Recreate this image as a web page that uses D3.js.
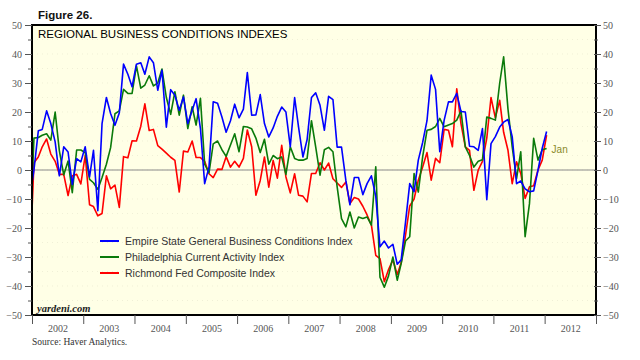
<!DOCTYPE html>
<html><head><meta charset="utf-8">
<script src="https://cdn.jsdelivr.net/npm/d3@7"></script>
<style>
html,body{margin:0;padding:0;background:#fff;}
svg{display:block;}
</style></head>
<body>
<svg id="chart" width="640" height="360"></svg>
<script>
// Monthly data, Dec 2001 .. Jan 2012 (first point sits just left of the plot and is clipped)
const startMonth = [2001, 11];
const empire = [-10, 0, 13.5, 14, 20.4, 16, 9.7, -2, 8, 6.2, -5, 3.9, 2.8,
  8, -2.4, 6.8, -14, 16, 25, 19.5, 15.4, 19.7, 36.5, 33, 28.7,
  36.5, 37, 33, 39, 37, 27.5, 34.4, 14.8, 27.7, 25.8, 20.6, 25.2,
  16, 20.6, 24.6, 14.3, -4.7, 1, 23.5, 23, 18.3, 13, 17, 22.7,
  18, 21, 33.6, 18.9, 19, 26, 16, 11.4, 14.5, 18.5, 21.7, 20,
  8, 25, 14.8, 4.5, 10.5, 25, 26.6, 22.3, 13.7, 25.4, 24.3, 7.9,
  7.9, -3.6, -12, -2.6, -2.6, -8.5, -4.7, -2, -9, -26.5, -24.5, -26.9,
  -25.6, -32.5, -31, -18, -4.7, -7.5, 3.4, 9.5, 17, 32.7, 27.8, 6.3,
  17.1, 23.5, 23.5, 26.4, 20.2, 20, 8.2, 8, 6.8, 14.3, -10.2, 9.1,
  11.5, 14.8, 16.5, 17.4, 11.5, -4.7, -3.8, -6.5, -7.5, -7.2, 0, 7.5,
  13.3];
const philly = [-25, 11, 11.2, 12, 12.5, 10.3, 20, 6.6, -1.7, 3.1, -7.8, 6.9, 6.9,
  6, -3.2, -4.4, -6.7, -2.6, 2, 7.7, 19.4, 20.4, 27.8, 26.4, 26.4,
  35.9, 28.2, 29.3, 32.5, 29, 30, 34.8, 25, 19.2, 27, 18.9, 25.8,
  14.3, 21.8, 15.5, 24.7, 2, -1, 9, 10, 7, 4.7, 8.6, 12.5,
  6.3, 15, 14.8, 14.2, 11, 6, 10.6, 2, 5, 3.9, 4.5, -1.5,
  8, 4, 3.4, 3.4, 4, 17, 8, -1.8, 7, 7.8, 6.3, -5.8,
  -16.8, -19.6, -14.5, -20, -16.2, -16.7, -16.2, -19, 1.1, -37, -40.4, -36.5,
  -30, -38, -32.3, -24.5, -23, -1.2, -7.6, 4.5, 13.7, 14, 15, 17.8,
  14.9, 15.5, 16, 17.2, 20.4, 8, 5, 1, 3, 3.5, 18.3, 17.8,
  17.2, 30, 39, 21, 8, -3, 6.3, -23, -11.6, 10.9, 3.4, 7,
  7.4];
const richmond = [-34, 2.5, 4.5, 8, 10.7, 5.5, 3, -1.5, -1.5, -8.8, -2, -1.5, -4.8,
  5, -12, -12.6, -15.8, -15, -2, -6.5, -5.2, -12.9, 4.6, 4.2, 10.1,
  10, 15.1, 22.8, 13.6, 14, 8.4, 7.2, 5.8, 4.4, 3.3, -7.6, 6.5,
  6.2, 10, 4.3, 4.3, 3, -1.3, -2.6, 0.3, 0.2, 4.6, 1, 3,
  1, 4, 13.8, 8, -8.7, -3.6, 4.5, -5.9, 3.3, -2.8, 8.5, -2.4,
  -7.9, -1.3, -8.7, -9, -11, -1.2, -1.2, 2.5, 0, 2.4, -3, -4.5,
  -6, -4.1, -11.6, -9.5, -10, -12.5, -15.5, -19, -29.4, -30.6, -38.5, -34.3,
  -31, -36, -32, -22.5, -12.4, -10, -3.5, 1, 6, -3.5, 4, 2.5,
  14, 13.7, 8, 28, 16, 8, 6.8, -7, 0, 3, 11, 25,
  18, 24, 13, 6.8, -4.7, 2.8, -1.2, -9.8, -5.8, -5.4, 0, 3.4,
  12];
const yTicks = [-50, -40, -30, -20, -10, 0, 10, 20, 30, 40, 50];
const yMinor = [-45, -35, -25, -15, -5, 5, 15, 25, 35, 45];
const yearLabels = ["2002","2003","2004","2005","2006","2007","2008","2009","2010","2011","2012"];
const seriesNames = ["Empire State General Business Conditions Index",
  "Philadelphia Current Activity Index", "Richmond Fed Composite Index"];
const seriesColors = ["#0000ff", "#0a7a0a", "#ff0000"];

const svg = d3.select("#chart");
const L = 32, R = 596, T = 25, B = 315;
const x = d3.scaleTime().domain([new Date(2002,0,1), new Date(2013,0,1)]).range([L, R]);
const y = d3.scaleLinear().domain([-50, 50]).range([B, T]);
const dateOf = i => d3.timeDay.offset(new Date(startMonth[0], startMonth[1] + i, 1), 14);

svg.append("defs").append("clipPath").attr("id","clip")
  .append("rect").attr("x", L).attr("y", T).attr("width", R-L).attr("height", B-T);

// plot background
svg.append("rect").attr("x", L).attr("y", T).attr("width", R-L).attr("height", B-T)
  .attr("fill", "#ffffe6");

// faint dotted grid
const g0 = svg.append("g").attr("clip-path","url(#clip)");
g0.selectAll("line.hg").data(d3.range(-50, 51, 5)).join("line")
  .attr("x1", L).attr("x2", R).attr("y1", d => y(d)).attr("y2", d => y(d))
  .attr("stroke", "#e6e6cc").attr("stroke-width", 0.6).attr("stroke-dasharray","1,4");

// zero line
svg.append("line").attr("x1", L).attr("x2", R).attr("y1", y(0)).attr("y2", y(0))
  .attr("stroke", "#8a8a8a").attr("stroke-width", 1);

// lines
const line = d3.line().x((d,i) => x(dateOf(i))).y(d => y(d));
const gl = svg.append("g").attr("clip-path","url(#clip)");
[[richmond, 2], [philly, 1], [empire, 0]].forEach(([data, k]) => {
  gl.append("path").datum(data).attr("d", line).attr("fill","none")
    .attr("stroke", seriesColors[k]).attr("stroke-width", 1.6).attr("stroke-linejoin","round");
});

// frame
svg.append("rect").attr("x", L).attr("y", T).attr("width", R-L).attr("height", B-T)
  .attr("fill", "none").attr("stroke", "#000").attr("stroke-width", 2);

// axes
const tickFont = "'Liberation Serif','Times New Roman',serif";
function styleAxis(g){
  g.select(".domain").remove();
  g.selectAll(".tick line").attr("stroke","#555");
  g.selectAll("text").attr("font-family", tickFont).attr("font-size", 10).attr("fill","#555");
}
svg.append("g").attr("transform",`translate(${L},0)`)
  .call(d3.axisLeft(y).tickValues(yTicks).tickSize(7).tickPadding(3)).call(styleAxis);
svg.append("g").attr("transform",`translate(${L},0)`)
  .call(d3.axisLeft(y).tickValues(yMinor).tickSize(4).tickFormat("")).call(styleAxis);
svg.append("g").attr("transform",`translate(${R-2},0)`)
  .call(d3.axisRight(y).tickValues(yTicks).tickSize(7).tickPadding(2)).call(styleAxis);
svg.append("g").attr("transform",`translate(${R-2},0)`)
  .call(d3.axisRight(y).tickValues(yMinor).tickSize(4).tickFormat("")).call(styleAxis);

const yearStarts = yearLabels.map(s => new Date(+s, 0, 1)).concat([new Date(2013,0,1)]);
svg.append("g").attr("transform",`translate(0,${B})`)
  .call(d3.axisBottom(x).tickValues(yearStarts).tickSize(9).tickFormat("")).call(styleAxis);
svg.append("g").attr("transform",`translate(0,${B})`)
  .call(d3.axisBottom(x).tickValues(yearLabels.map(s => new Date(+s, 6, 2))).tickSize(0).tickPadding(10)
    .tickFormat((d,i) => yearLabels[i])).call(styleAxis);

// texts
svg.append("text").attr("x", 38).attr("y", 19).text("Figure 26.")
  .attr("font-family","'Liberation Sans',Arial,sans-serif").attr("font-weight","bold").attr("font-size", 11.5).attr("fill","#111");
svg.append("text").attr("x", 38).attr("y", 38).text("REGIONAL BUSINESS CONDITIONS INDEXES")
  .attr("font-family","'Liberation Sans',Arial,sans-serif").attr("font-size", 11.5).attr("fill","#000");
svg.append("text").attr("x", 37).attr("y", 312).text("yardeni.com")
  .attr("font-family", tickFont).attr("font-style","italic").attr("font-weight","bold").attr("font-size", 10.5).attr("fill","#222");
svg.append("text").attr("x", 32).attr("y", 345).text("Source: Haver Analytics.")
  .attr("font-family", tickFont).attr("font-size", 9.5).attr("fill","#333");
svg.append("text").attr("x", x(dateOf(philly.length-1)) + 5).attr("y", y(philly[philly.length-1]) + 4).text("Jan")
  .attr("font-family","'Liberation Sans',Arial,sans-serif").attr("font-size", 10).attr("fill","#8a8a2a");

// legend
const lg = svg.append("g");
seriesNames.forEach((name, i) => {
  const yy = 241 + i * 16;
  lg.append("line").attr("x1", 100).attr("x2", 119).attr("y1", yy).attr("y2", yy)
    .attr("stroke", seriesColors[i]).attr("stroke-width", 2);
  lg.append("text").attr("x", 125).attr("y", yy + 4).text(name)
    .attr("font-family","'Liberation Sans',Arial,sans-serif").attr("font-size", 10.5).attr("fill","#333");
});
</script>
</body></html>
